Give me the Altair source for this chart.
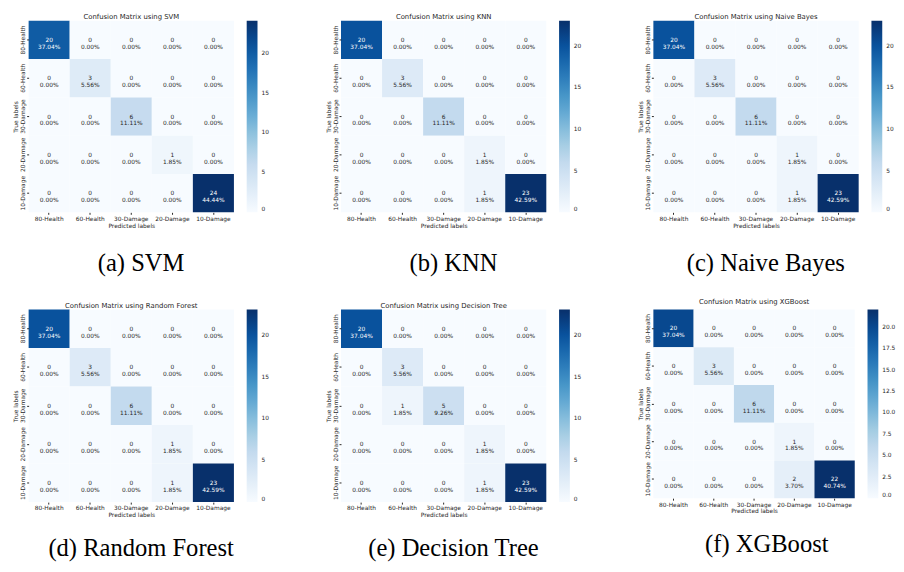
import altair as alt
import pandas as pd

labels = ["80-Health", "60-Health", "30-Damage", "20-Damage", "10-Damage"]
models = ["SVM", "KNN", "Naive Bayes", "Random Forest", "Decision Tree", "XGBoost"]
captions = ["(a) SVM", "(b) KNN", "(c) Naive Bayes", "(d) Random Forest", "(e) Decision Tree", "(f) XGBoost"]

svm = [[20, 0, 0, 0, 0], [0, 3, 0, 0, 0], [0, 0, 6, 0, 0], [0, 0, 0, 1, 0], [0, 0, 0, 0, 24]]
knn = [[20, 0, 0, 0, 0], [0, 3, 0, 0, 0], [0, 0, 6, 0, 0], [0, 0, 0, 1, 0], [0, 0, 0, 1, 23]]
nb = [[20, 0, 0, 0, 0], [0, 3, 0, 0, 0], [0, 0, 6, 0, 0], [0, 0, 0, 1, 0], [0, 0, 0, 1, 23]]
rf = [[20, 0, 0, 0, 0], [0, 3, 0, 0, 0], [0, 0, 6, 0, 0], [0, 0, 0, 1, 0], [0, 0, 0, 1, 23]]
dt = [[20, 0, 0, 0, 0], [0, 3, 0, 0, 0], [0, 1, 5, 0, 0], [0, 0, 0, 1, 0], [0, 0, 0, 1, 23]]
xgb = [[20, 0, 0, 0, 0], [0, 3, 0, 0, 0], [0, 0, 6, 0, 0], [0, 0, 0, 1, 0], [0, 0, 0, 2, 22]]
matrices = [svm, knn, nb, rf, dt, xgb]

ticks_int = [0, 5, 10, 15, 20]
ticks_xgb = [0.0, 2.5, 5.0, 7.5, 10.0, 12.5, 15.0, 17.5, 20.0]
legend_ticks = [ticks_int, ticks_int, ticks_int, ticks_int, ticks_int, ticks_xgb]

BLUES = ["#f7fbff", "#deebf7", "#c6dbef", "#9ecae1", "#6baed6",
         "#4292c6", "#2171b5", "#08519c", "#08306b"]
TXT = "#262626"


def indep(c):
    return c.resolve_scale(color="independent").resolve_legend(color="independent")


def panel(i, w, h, title_offset, cap_offset):
    m = matrices[i]
    total = sum(sum(r) for r in m)
    vmax = max(max(r) for r in m)
    rows = []
    for r, tl in enumerate(labels):
        for c, pl in enumerate(labels):
            v = m[r][c]
            rows.append({"true": tl, "pred": pl, "v": v,
                         "txt": f"{v}\n{v / total * 100:.2f}%",
                         "dark": v / vmax > 0.5})
    df = pd.DataFrame(rows)
    dom = [vmax * k / 8 for k in range(9)]
    fmt = ".1f" if i == 5 else "d"
    x = alt.X("pred:N", sort=labels, title="Predicted labels",
              axis=alt.Axis(labelAngle=0, labelFontSize=6, tickSize=2, domain=False,
                            labelPadding=1, titleFontSize=6, titlePadding=1,
                            titleFontWeight="normal", labelColor=TXT, titleColor=TXT,
                            tickColor=TXT))
    y = alt.Y("true:N", sort=labels, title="True labels",
              axis=alt.Axis(labelAngle=270, labelFontSize=6, tickSize=2, domain=False,
                            labelPadding=1, titleFontSize=6, titlePadding=1,
                            titleFontWeight="normal", labelColor=TXT, titleColor=TXT,
                            tickColor=TXT))
    base = alt.Chart(df)
    rect = base.mark_rect().encode(
        x=x, y=y,
        color=alt.Color("v:Q",
                        scale=alt.Scale(domain=dom, range=BLUES, interpolate="rgb"),
                        legend=alt.Legend(type="gradient", title=None, values=legend_ticks[i],
                                          format=fmt, gradientLength=h, gradientThickness=11,
                                          offset=13, labelFontSize=6, labelOffset=4,
                                          labelColor=TXT, gradientStrokeWidth=0, padding=0,
                                          direction="vertical", orient="right")))
    text = base.mark_text(lineBreak="\n", fontSize=6, lineHeight=7, baseline="middle").encode(
        x=x, y=y, text="txt:N",
        fill=alt.condition("datum.dark", alt.value("#ffffff"), alt.value(TXT)))
    layer = alt.layer(rect, text).properties(
        width=w, height=h,
        title=alt.TitleParams(f"Confusion Matrix using {models[i]}", fontSize=7,
                              fontWeight="normal", offset=title_offset, frame="group",
                              color=TXT))
    return indep(alt.vconcat(layer)).properties(
        title=alt.TitleParams(captions[i], orient="bottom", anchor="middle",
                              font="Liberation Serif", fontSize=25, fontWeight="normal",
                              offset=cap_offset, color="black"))


row1 = indep(alt.hconcat(panel(0, 209, 195, 1, 24), panel(1, 209, 195, 1, 24),
                         panel(2, 209, 195, 1, 24), spacing=57))
row2 = indep(alt.hconcat(panel(3, 209, 196, 1, 19), panel(4, 209, 196, 1, 19),
                         panel(5, 205, 192, 5, 19), spacing=57))
chart = indep(alt.vconcat(row1, row2, spacing=22)).properties(
    padding={"left": 5, "top": 0, "right": 0, "bottom": 0}
).configure(font="DejaVu Sans").configure_view(stroke=None)

chart.save("out.html", embed_options={"renderer": "svg", "actions": False})
